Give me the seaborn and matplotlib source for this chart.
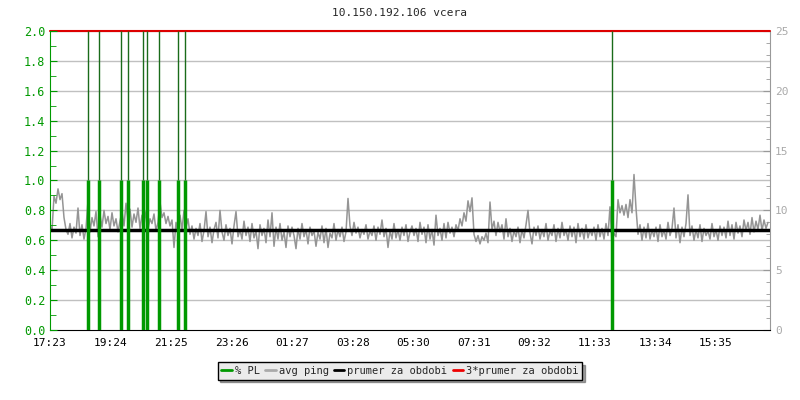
import numpy as np
import pandas as pd
import matplotlib
matplotlib.use("Agg")
import matplotlib.pyplot as plt
from matplotlib.lines import Line2D
from matplotlib.ticker import MultipleLocator
import seaborn as sns

# --- data ---
title = "10.150.192.106 vcera"
tick_labels = ["17:23", "19:24", "21:25", "23:26", "01:27", "03:28", "05:30",
               "07:31", "09:32", "11:33", "13:34", "15:35"]

# avg ping [ms], one sample every 4 minutes from 17:23
ping = [
    8.8, 8.3, 11.2, 10.6, 11.8, 10.9, 11.4, 9.4, 8.4,
    8.0, 8.9, 7.7, 8.6, 8.1, 10.2, 7.9, 8.8, 7.6, 8.5,
    10.8, 8.2, 9.4, 8.7, 9.9, 7.8,
    9.6, 8.6, 10.0, 8.9, 9.5, 8.4, 9.8, 8.7, 9.3, 8.2, 9.1,
    9.9, 8.7, 10.6, 9.2, 10.1, 8.6, 9.7, 9.0, 10.2, 8.5,
    9.6, 8.8, 9.9, 8.4, 9.3, 8.9, 9.7, 8.3, 9.0, 10.7,
    9.4, 9.8, 8.9, 9.5, 8.7, 9.2, 6.9,
    9.0, 8.1, 9.6, 8.4, 10.0, 8.6, 9.3, 8.0,
    8.7, 7.6, 8.5, 7.9, 8.9, 7.4, 8.3, 9.9, 7.8, 8.6,
    7.3, 8.4, 9.0, 7.7, 10.0, 8.2, 7.5, 8.8, 7.9, 8.5,
    7.2, 8.7, 9.9, 7.8, 8.4, 7.6, 9.1, 7.9, 8.6, 7.4,
    8.9, 7.7, 8.3, 6.8, 8.8, 7.9, 8.5, 7.3, 9.2, 7.8,
    9.8, 7.0, 8.6, 7.6, 8.9, 7.5, 8.2, 6.9, 8.7, 7.8,
    8.6, 7.9, 6.8, 8.5, 7.6, 8.9, 7.8, 8.4, 7.2, 8.6,
    7.9, 8.3, 7.0, 8.2, 7.6, 8.7, 7.3, 8.5, 6.9, 8.1,
    7.7, 8.9, 7.5, 8.4, 7.8, 8.6, 7.4, 8.2, 11.0, 8.7,
    7.9, 9.0, 8.1, 8.6, 7.7, 8.4, 8.0, 8.8, 7.6, 8.3,
    7.9, 8.7, 7.5, 8.6, 8.0, 9.2, 7.8, 8.5, 6.9, 8.3,
    7.6, 8.9, 7.7, 8.4, 7.5, 8.6, 7.9, 8.8, 7.4, 8.2,
    8.7, 7.9, 8.5, 7.4, 9.0, 8.0, 8.6, 7.3, 8.8, 7.6,
    8.4, 7.1, 9.6, 7.9, 8.5, 7.5, 8.9, 7.7, 9.0, 8.1,
    8.6, 7.8, 8.8, 8.3, 9.3, 8.7, 9.8, 9.1, 10.8, 9.9,
    11.05, 8.0, 7.4, 7.9, 7.2, 7.8, 7.5, 8.1, 7.3, 10.7,
    8.4, 9.1, 7.9, 9.0, 8.2, 8.8, 7.6, 9.3, 7.8, 8.5,
    7.4, 8.3, 7.8, 8.6, 7.3, 8.4, 7.7, 8.8, 10.0, 8.1,
    7.2, 8.6,
    7.9, 8.7, 7.6, 8.4, 7.8, 8.9, 7.5, 8.3, 7.9, 8.8,
    7.4, 8.5, 7.7, 9.0, 7.9, 8.4, 7.5, 8.7, 7.8, 8.6,
    7.3, 8.9, 7.8, 8.5, 7.6, 8.8, 7.7, 8.4, 7.9, 8.6,
    7.5, 8.8, 7.8, 8.5, 7.6, 8.9, 7.9, 10.3, 7.2, 8.1,
    7.8, 10.9, 9.8, 10.4, 9.6, 10.5, 9.4, 10.9, 9.8, 13.0,
    10.2, 8.0, 8.8, 7.5, 8.6, 7.7, 8.9, 7.6, 8.4, 7.8,
    8.6, 7.4, 8.8, 7.8, 8.4, 7.6, 9.0, 7.9, 8.5, 10.2,
    7.7, 8.8, 7.3, 8.6, 7.8, 8.9, 11.3, 7.9, 8.7, 7.5,
    8.4, 7.7, 8.8, 7.4, 8.5, 7.9, 8.3, 7.6, 8.9, 7.8,
    8.4, 7.5, 8.7, 7.9, 8.6, 7.7, 9.1, 7.9, 8.8, 7.6,
    9.0, 8.1, 8.7, 7.8, 9.2, 8.3, 9.0, 8.0, 9.4, 8.2,
    9.1, 8.4, 9.6, 8.3, 9.2, 8.5, 9.0,
]
prumer = 8.33  # prumer za obdobi [ms]

# packet loss events: minutes after 17:23 and loss value
pl_minutes = [75, 97, 141, 155, 185, 193, 217, 255, 269, 1123]
pl_values = [1.0, 1.0, 1.0, 1.0, 1.0, 1.0, 1.0, 1.0, 1.0, 1.0]

df = pd.DataFrame({"t": np.arange(len(ping)) * 4, "ping": ping})

GREEN = "#009900"
GRAY = "#999999"
mono = "DejaVu Sans Mono"

sns.set_style("white")
plt.rcParams["font.family"] = [mono]
plt.rcParams["font.size"] = 7.5

fig = plt.figure(figsize=(8, 4), dpi=100)
ax = fig.add_axes([50 / 800, 70 / 400, 720 / 800, 299 / 400])  # ping axis (right side)
ax_pl = ax.twinx()                                                # % PL axis (left side)

# grid lines follow the % PL ticks (every 0.2 = every 2.5 ms)
ax.hlines(np.arange(2.5, 25.1, 2.5), 0, 1440, color="#c0c0c0", linewidth=1, zorder=0)

# ping axis
sns.lineplot(data=df, x="t", y="ping", ax=ax, color="#959595", linewidth=1.1, zorder=2)
ax.axhline(prumer, color="black", linewidth=2.5, zorder=4)
ax.axhline(3 * prumer, color="#dd0000", linewidth=1.5, zorder=5, clip_on=False)
ax.set_ylim(0, 25)
ax.set_xlim(0, 1440)
ax.yaxis.tick_right()
ax.yaxis.set_label_position("right")
ax.yaxis.set_major_locator(MultipleLocator(5))
ax.yaxis.set_minor_locator(MultipleLocator(1))
ax.tick_params(axis="y", which="both", direction="in", colors=GRAY,
               labelcolor="#aaaaaa", left=False, right=True, labelsize=8)
ax.tick_params(axis="y", which="major", length=5)
ax.tick_params(axis="y", which="minor", length=3)
ax.set_xticks([k * 121.1 for k in range(len(tick_labels))])
ax.set_xticklabels(tick_labels)
ax.tick_params(axis="x", direction="in", length=4, pad=6, colors="black", labelsize=8)
ax.set_xlabel("")
ax.set_ylabel("")
for s in ["top", "left"]:
    ax.spines[s].set_visible(False)
ax.spines["right"].set_color(GRAY)
ax.spines["bottom"].set_color("black")

# % PL axis
ax_pl.set_ylim(0, 2.0)
ax_pl.yaxis.tick_left()
ax_pl.yaxis.set_label_position("left")
ax_pl.set_yticks(np.arange(0, 2.01, 0.2))
ax_pl.set_yticklabels([f"{v:.1f}" for v in np.arange(0, 2.01, 0.2)])
ax_pl.yaxis.set_minor_locator(MultipleLocator(0.1))
ax_pl.tick_params(axis="y", which="both", direction="in", colors=GREEN,
                  labelcolor=GREEN, left=True, right=False, labelsize=8.5)
ax_pl.tick_params(axis="y", which="major", length=5)
ax_pl.tick_params(axis="y", which="minor", length=4)
ax_pl.grid(False)
for s in ["top", "right", "bottom"]:
    ax_pl.spines[s].set_visible(False)
ax_pl.spines["left"].set_color(GREEN)
ax_pl.vlines(pl_minutes, 0, pl_values, color=GREEN, linewidth=2.5)
ax_pl.vlines(pl_minutes, pl_values, 2.0, color="#1a6b1a", linewidth=1)
ax_pl.set_xlim(0, 1440)

fig.text(0.5, 1 - 13 / 400, title, ha="center", va="center", fontsize=8)

handles = [
    Line2D([], [], color=GREEN, lw=2),
    Line2D([], [], color="#aaaaaa", lw=2),
    Line2D([], [], color="black", lw=2),
    Line2D([], [], color="#ee0000", lw=2),
]
labels = ["% PL", "avg ping", "prumer za obdobi", "3*prumer za obdobi"]
leg = fig.legend(handles, labels, loc="center", bbox_to_anchor=(0.5, 1 - 371 / 400),
                 ncol=4, fontsize=7.5, frameon=True, fancybox=False, shadow=True,
                 handlelength=1.0, handletextpad=0.3, columnspacing=0.5,
                 borderpad=0.35, borderaxespad=0)
leg.get_frame().set_facecolor("#ebebeb")
leg.get_frame().set_edgecolor("black")
leg.get_frame().set_alpha(1)

plt.savefig("out.png", dpi=100)
